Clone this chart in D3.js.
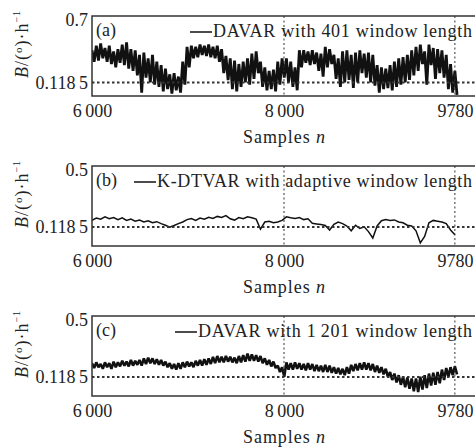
<!DOCTYPE html>
<html>
<head>
<meta charset="utf-8">
<script src="https://cdn.jsdelivr.net/npm/d3@7"></script>
<style>
body { margin: 0; background: #fff; }
text { font-family: "Liberation Serif", "Times New Roman", Tinos, Times, serif; fill: #222; }
</style>
</head>
<body>
<div id="chart"></div>
<script>
// samples run 6000..9780, one reading every 45 samples
var sampleStart = 6000;
var sampleStep = 45;
var xTicks = [6000, 8000, 9780];
var xTickLabels = ["6\u2009000", "8\u2009000", "9780"];
var refLevel = 0.1185;
var serif = '"Liberation Serif", "Times New Roman", Tinos, Times, serif';

// (a) DAVAR, 401 window: upper / lower edge of the noisy band
var aHi = [0.40,0.44,0.46,0.42,0.44,0.39,0.41,0.45,0.47,0.41,0.40,0.36,0.38,0.33,0.36,0.30,0.27,0.24,0.19,0.20,
	0.17,0.30,0.43,0.44,0.43,0.45,0.44,0.45,0.43,0.44,0.41,0.35,0.33,0.31,0.28,0.30,0.33,0.37,0.39,0.30,
	0.25,0.22,0.23,0.30,0.33,0.33,0.30,0.25,0.40,0.40,0.39,0.40,0.38,0.37,0.43,0.41,0.36,0.33,0.39,0.40,
	0.36,0.38,0.40,0.37,0.38,0.36,0.27,0.25,0.24,0.27,0.30,0.33,0.34,0.36,0.40,0.43,0.45,0.39,0.45,0.42,
	0.41,0.40,0.36,0.28,0.22];
var aLo = [0.30,0.31,0.33,0.30,0.28,0.25,0.29,0.27,0.24,0.22,0.18,0.03,0.16,0.12,0.10,0.08,0.04,0.06,0.02,0.05,
	0.03,0.10,0.25,0.33,0.34,0.36,0.35,0.34,0.33,0.30,0.20,0.14,0.06,0.04,0.08,0.12,0.10,0.15,0.20,0.08,
	0.05,0.06,0.04,0.10,0.16,0.12,0.08,0.05,0.25,0.29,0.27,0.28,0.22,0.17,0.25,0.28,0.15,0.08,0.12,0.14,
	0.07,0.12,0.20,0.16,0.12,0.09,0.03,0.06,0.07,0.05,0.08,0.10,0.12,0.14,0.18,0.22,0.28,0.10,0.27,0.15,
	0.20,0.16,0.06,0.03,0.01];

// (b) K-DTVAR, adaptive window
var bVal = [0.160,0.175,0.168,0.182,0.170,0.178,0.165,0.176,0.160,0.168,0.155,0.162,0.150,0.158,0.145,0.152,0.140,0.130,0.118,0.128,
	0.140,0.150,0.165,0.172,0.160,0.175,0.168,0.180,0.172,0.185,0.178,0.190,0.170,0.162,0.178,0.170,0.182,0.176,0.168,0.105,
	0.150,0.155,0.145,0.150,0.160,0.182,0.176,0.172,0.178,0.165,0.170,0.142,0.138,0.134,0.128,0.100,0.135,0.150,0.140,0.125,
	0.095,0.130,0.110,0.120,0.090,0.050,0.125,0.158,0.165,0.160,0.163,0.150,0.145,0.130,0.125,0.095,0.020,0.060,0.145,0.160,
	0.155,0.150,0.140,0.100,0.070];

// (c) DAVAR, 1201 window
var cHi = [0.205,0.21,0.20,0.21,0.205,0.215,0.21,0.22,0.215,0.225,0.22,0.225,0.235,0.24,0.235,0.23,0.225,0.215,0.205,0.20,
	0.205,0.21,0.215,0.21,0.22,0.225,0.23,0.235,0.245,0.25,0.245,0.25,0.245,0.24,0.25,0.255,0.265,0.26,0.255,0.25,
	0.235,0.225,0.215,0.19,0.18,0.21,0.205,0.21,0.205,0.20,0.205,0.20,0.195,0.19,0.195,0.19,0.18,0.175,0.17,0.18,
	0.195,0.20,0.205,0.21,0.205,0.20,0.19,0.18,0.17,0.15,0.14,0.13,0.12,0.115,0.11,0.11,0.12,0.13,0.14,0.145,
	0.15,0.165,0.175,0.18,0.185];
var cLo = [0.175,0.18,0.17,0.18,0.17,0.18,0.185,0.19,0.185,0.19,0.195,0.19,0.20,0.205,0.20,0.195,0.19,0.18,0.17,0.165,
	0.17,0.18,0.185,0.18,0.19,0.19,0.195,0.20,0.205,0.21,0.21,0.215,0.21,0.205,0.21,0.215,0.22,0.22,0.215,0.205,
	0.195,0.185,0.175,0.15,0.12,0.165,0.165,0.17,0.165,0.16,0.165,0.155,0.155,0.15,0.15,0.145,0.14,0.135,0.13,0.14,
	0.155,0.16,0.165,0.165,0.16,0.15,0.145,0.135,0.12,0.10,0.085,0.07,0.055,0.045,0.03,0.025,0.04,0.05,0.065,0.07,
	0.08,0.10,0.12,0.13,0.135];

var panels = [
	{ tag: "(a)", top: 16, yMax: 0.7, yTop: "0.7", legend: "DAVAR with 401 window length", legX: 190, hi: aHi, lo: aLo, w: 2.8 },
	{ tag: "(b)", top: 166, yMax: 0.5, yTop: "0.5", legend: "K-DTVAR with adaptive window length", legX: 134, vals: bVal },
	{ tag: "(c)", top: 316, yMax: 0.5, yTop: "0.5", legend: "DAVAR with 1\u2009201 window length", legX: 175, hi: cHi, lo: cLo, w: 2.6 }
];

var W = 475, H = 447;
var plotLeft = 92, plotRight = 476, plotH = 80;
var fontSize = "18px";

var svg = d3.select("#chart").append("svg")
	.attr("width", W)
	.attr("height", H);

var x = d3.scaleLinear().domain([6000, 10000]).range([plotLeft, plotRight]);
function sampleAt(i){ return sampleStart + i * sampleStep; }

panels.forEach(function(p, k){
	var bottom = p.top + plotH;
	var y = d3.scaleLinear().domain([0, p.yMax]).range([bottom, p.top]);
	var g = svg.append("g");

	g.append("clipPath").attr("id", "clip" + k)
		.append("rect")
		.attr("x", plotLeft).attr("y", p.top)
		.attr("width", plotRight - plotLeft).attr("height", plotH);

	var data = g.append("g").attr("clip-path", "url(#clip" + k + ")");

	// signal
	if (p.vals) {
		var line = d3.line()
			.x(function(d, i){ return x(sampleAt(i)); })
			.y(function(d){ return y(d); });
		data.append("path")
			.datum(p.vals)
			.attr("d", line)
			.attr("fill", "none")
			.attr("stroke", "#111")
			.attr("stroke-width", 1.5);
	} else {
		// noisy band: jump from the upper to the lower reading at each step
		var zig = [];
		p.hi.forEach(function(h, i){
			zig.push([sampleAt(i), h]);
			zig.push([sampleAt(i) + sampleStep / 2, p.lo[i]]);
		});
		var zline = d3.line()
			.x(function(d){ return x(d[0]); })
			.y(function(d){ return y(d[1]); });
		data.append("path")
			.datum(zig)
			.attr("d", zline)
			.attr("fill", "none")
			.attr("stroke", "#111")
			.attr("stroke-width", p.w)
			.attr("stroke-linejoin", "bevel");
	}

	// reference level
	data.append("line")
		.attr("x1", plotLeft).attr("x2", plotRight)
		.attr("y1", y(refLevel)).attr("y2", y(refLevel))
		.attr("stroke", "#333")
		.attr("stroke-width", 2)
		.attr("stroke-dasharray", "2.5,2.5");

	// vertical markers at 8000 and 9780
	data.selectAll(".vmark")
		.data([8000, 9780]).enter()
		.append("line")
		.attr("class", "vmark")
		.attr("x1", function(d){ return x(d); })
		.attr("x2", function(d){ return x(d); })
		.attr("y1", p.top).attr("y2", bottom)
		.attr("stroke", "#333")
		.attr("stroke-width", 1)
		.attr("stroke-dasharray", "2,2.5");

	// frame
	g.append("rect")
		.attr("x", plotLeft).attr("y", p.top)
		.attr("width", plotRight - plotLeft).attr("height", plotH)
		.attr("fill", "none")
		.attr("stroke", "#333")
		.attr("stroke-width", 1.5);

	// y ticks
	var yAxis = d3.axisLeft(y)
		.tickValues([refLevel, p.yMax])
		.tickSize(0)
		.tickPadding(4)
		.tickFormat(function(d){ return d == refLevel ? "0.118\u20095" : p.yTop; });
	var ya = g.append("g")
		.attr("transform", "translate(" + plotLeft + ",0)")
		.call(yAxis);
	ya.attr("font-family", serif);
	ya.select(".domain").remove();
	ya.selectAll("text")
		.style("font-size", fontSize)
		.attr("fill", "#222")
		.attr("dy", function(d){ return d == refLevel ? "0.32em" : "0.5em"; });

	// x ticks
	var xAxis = d3.axisBottom(x)
		.tickValues(xTicks)
		.tickSize(0)
		.tickPadding(8)
		.tickFormat(function(d, i){ return xTickLabels[i]; });
	var xa = g.append("g")
		.attr("transform", "translate(0," + bottom + ")")
		.call(xAxis);
	xa.attr("font-family", serif);
	xa.select(".domain").remove();
	xa.selectAll("text")
		.style("font-size", fontSize)
		.attr("fill", "#222");

	// x title
	var xt = g.append("text")
		.attr("x", 284)
		.attr("y", bottom + 47)
		.attr("text-anchor", "middle")
		.style("font-size", fontSize)
		.attr("textLength", 82)
		.attr("lengthAdjust", "spacing");
	xt.append("tspan").text("Samples ");
	xt.append("tspan").style("font-style", "italic").text("n");

	// y title
	var yt = g.append("text")
		.attr("transform", "translate(28," + (p.top + 28) + ") rotate(-90)")
		.attr("text-anchor", "middle")
		.style("font-size", fontSize)
		.style("letter-spacing", "1px");
	yt.append("tspan").style("font-style", "italic").text("B");
	yt.append("tspan").text("/(");
	yt.append("tspan").style("font-size", "11px").attr("dy", -6).text("o");
	yt.append("tspan").attr("dy", 6).text(")\u00b7h");
	yt.append("tspan").style("font-size", "10px").attr("dy", -8).text("\u22121");

	// panel tag
	g.append("text")
		.attr("x", 96)
		.attr("y", p.top + 20)
		.style("font-size", fontSize)
		.text(p.tag);

	// legend
	g.append("line")
		.attr("x1", p.legX).attr("x2", p.legX + 22)
		.attr("y1", p.top + 16).attr("y2", p.top + 16)
		.attr("stroke", "#111")
		.attr("stroke-width", 1.5);
	g.append("text")
		.attr("x", p.legX + 23)
		.attr("y", p.top + 21)
		.style("font-size", fontSize)
		.attr("textLength", 472 - (p.legX + 23))
		.attr("lengthAdjust", "spacing")
		.text(p.legend);
});
</script>
</body>
</html>
